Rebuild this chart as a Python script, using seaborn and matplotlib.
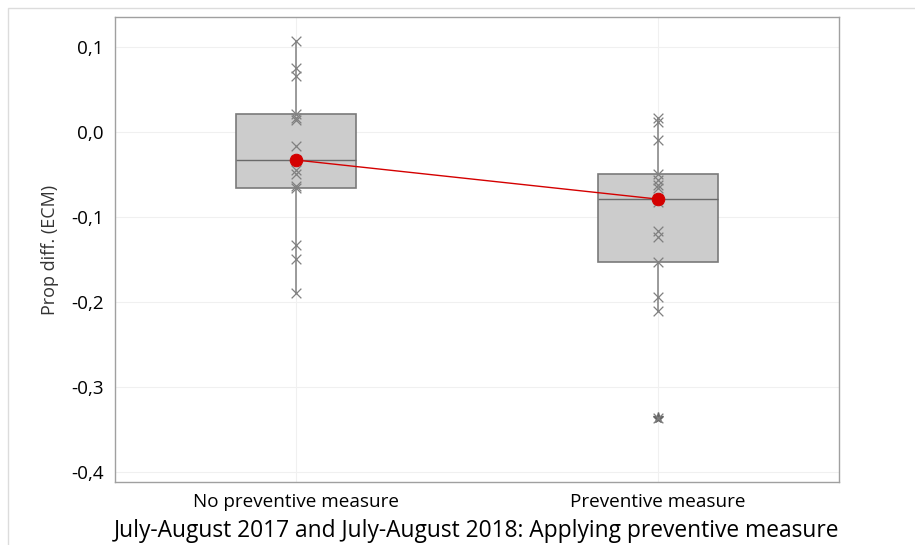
import numpy as np
import pandas as pd
import matplotlib
matplotlib.use("Agg")
import matplotlib.pyplot as plt
import matplotlib.ticker as mticker
from matplotlib.patches import Rectangle
import seaborn as sns

# Data (15 sites per group)
groups = ["No preventive measure", "Preventive measure"]
no_measure = [0.107, 0.075, 0.066, 0.021, 0.017, 0.014, -0.017, -0.033,
              -0.045, -0.050, -0.064, -0.066, -0.133, -0.149, -0.189]
with_measure = [0.016, 0.012, -0.010, -0.049, -0.056, -0.062, -0.066, -0.079,
                -0.082, -0.117, -0.123, -0.153, -0.194, -0.211, -0.337]
y_ticks = [0.1, 0.0, -0.1, -0.2, -0.3, -0.4]

df = pd.DataFrame({
    "group": [groups[0]] * len(no_measure) + [groups[1]] * len(with_measure),
    "value": no_measure + with_measure,
})

sns.set_style("white")
plt.rcParams["font.family"] = ["Open Sans", "DejaVu Sans"]

fig = plt.figure(figsize=(9.15, 5.45), dpi=100)
ax = fig.add_axes([115 / 915, 1 - 482 / 545, 724 / 915, 465 / 545])

# Minitab style quartiles (weibull / (n+1)p positions)
def box_stats(vals):
    v = np.asarray(vals)
    q1, med, q3 = np.percentile(v, [25, 50, 75], method="weibull")
    iqr = q3 - q1
    inside = v[(v >= q1 - 1.5 * iqr) & (v <= q3 + 1.5 * iqr)]
    return dict(q1=q1, med=med, q3=q3, whislo=inside.min(), whishi=inside.max(),
                fliers=v[(v < q1 - 1.5 * iqr) | (v > q3 + 1.5 * iqr)])

stats = [box_stats(df.loc[df.group == g, "value"]) for g in groups]

# Grid
for yt in y_ticks:
    ax.axhline(yt, color="#f0f0f0", lw=0.8, zorder=0)
for i in range(len(groups)):
    ax.axvline(i, color="#f0f0f0", lw=0.8, zorder=0)

ax.bxp(stats, positions=range(len(groups)), widths=0.33, patch_artist=True,
       showcaps=False, manage_ticks=False,
       boxprops=dict(facecolor="#cccccc", edgecolor="#7a7a7a", linewidth=1.2),
       whiskerprops=dict(color="#8a8a8a", linewidth=1.2),
       medianprops=dict(color="#6a6a6a", linewidth=1.0),
       flierprops=dict(marker="*", markersize=8, markerfacecolor="#666666",
                       markeredgecolor="#666666"),
       zorder=2)

sns.stripplot(x="group", y="value", data=df, order=groups, jitter=False,
              marker="x", color="#808080", size=7, linewidth=0.9, ax=ax, zorder=3)

sns.pointplot(x="group", y="value", data=df, order=groups, estimator=np.median,
              errorbar=None, color="#d40000", markers="o", linestyles="-",
              linewidth=1, markersize=9, ax=ax, zorder=4)

ax.set_xlim(-0.5, 1.5)
ax.set_ylim(-0.4118, 0.1353)
ax.set_yticks(y_ticks)
ax.yaxis.set_major_formatter(mticker.FuncFormatter(lambda v, p: f"{v:.1f}".replace(".", ",").replace("-0,0", "0,0")))

for s in ax.spines.values():
    s.set_color("#a0a0a0")
    s.set_linewidth(1.0)
ax.tick_params(axis="both", direction="out", length=4, width=0.8, color="#a0a0a0",
               labelsize=13.6, labelcolor="#000000", pad=4)

ax.set_ylabel("Prop diff. (ECM)", fontsize=13, color="#333333", labelpad=9)
ax.set_xlabel("July-August 2017 and July-August 2018: Applying preventive measure",
              fontsize=16.4, color="#000000", labelpad=6)

# Light frame around the graph region
fig.add_artist(Rectangle((8 / 915, -0.1), 1.2, 1 - 8 / 545 + 0.1,
                         transform=fig.transFigure, fill=False,
                         edgecolor="#dcdcdc", linewidth=1.0))

fig.savefig("out.png", dpi=100)
